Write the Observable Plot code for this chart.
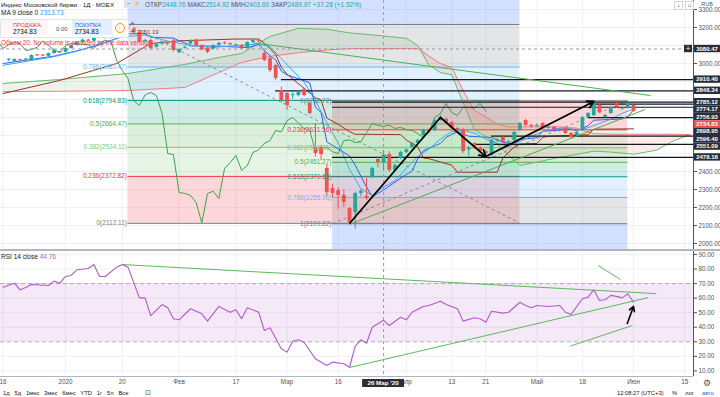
<!DOCTYPE html>
<html><head><meta charset="utf-8">
<script src="https://cdn.jsdelivr.net/npm/d3@7"></script>
<script src="https://cdn.jsdelivr.net/npm/@observablehq/plot@0.6"></script>
<style>
body{margin:0;background:#fff;font-family:"Liberation Sans",Arial,sans-serif;}
#wrap{position:relative;width:720px;height:397px;overflow:hidden;background:#fff}
#price{position:absolute;left:0;top:0}
#rsi{position:absolute;left:0;top:251px}
.t{position:absolute;white-space:nowrap;font-size:7px;line-height:8px;color:#131722}
#sep{position:absolute;left:0;top:249px;width:720px;height:2px;background:#b2b5be}
#order{position:absolute;left:0;top:19px;width:127px;height:17px;background:#fff;border:1px solid #e0e3eb;border-radius:2px}
</style></head><body><div id="wrap">
<div id="price"></div><div id="sep"></div><div id="rsi"></div>
</div>
<script>
// ---------- DATA ----------
const tickIdx = [-1,10,20,30,40,49,58,70,78,84,93,101,110,119];
const tickLabels = ["16","2020","20","Фев","17","Мар","16","Апр","13","21","Май","18","Июн","15"];
const crossIdx = 66, crossLabel = "26 Мар '20", crossPrice = 3080.47;
const priceTicks = [2000,2100,2200,2300,2400,3000,3200,3300];
const rsiTicks = [10,20,30,40,50,60,70,80,90];

const open = [3020,3011,3020,3022,3022,3047,3046,3040,3055,3064,
3062,3083,3100,3117,3130,3125,3145,3150,3140,3155,
3175,3195,3190,3170,3122,3128,3090,3108,3112,3125,
3060,3085,3108,3130,3100,3085,3080,3100,3114,3108,
3098,3100,3089,3117,3124,3056,3028,2989,2850,2833,
2822,2822,2856,2778,2533,2533,2417,2306,2294,2267,
2194,2172,2278,2262,2367,2467,2448.76,2494,2406,2472,
2506,2533,2556,2600,2630,2628,2683,2690,2672,2639,
2630,2520,2555,2530,2510,2490,2570,2589,2561,2572,
2628,2683,2656,2652,2667,2640,2645,2630,2639,2611,
2600,2628,2700,2711,2767,2700,2722,2778,2748,2750,
2767];
const high = [3028,3026,3024,3028,3048,3050,3050,3058,3076,3068,
3088,3104,3122,3136,3134,3150,3156,3152,3160,3180,
3205,3217,3196,3176,3134,3134,3108,3122,3118,3140,
3082,3096,3132,3135,3104,3090,3104,3118,3120,3114,
3108,3104,3120,3134,3130,3070,3034,2996,2870,2850,
2838,2846,2862,2790,2667,2545,2440,2330,2310,2300,
2200,2285,2300,2361,2425,2480,2514.92,2510,2440,2512,
2528,2562,2580,2634,2636,2690,2712,2698,2678,2645,
2640,2540,2560,2540,2518,2578,2585,2594,2570,2622,
2672,2690,2664,2664,2672,2650,2650,2636,2644,2616,
2622,2705,2728,2790,2775,2718,2760,2784,2758,2784,
2772];
const low = [3010,3006,3010,3016,3018,3040,3038,3036,3052,3056,
3058,3080,3096,3112,3120,3120,3140,3134,3136,3150,
3170,3180,3164,3114,3115,3075,3085,3100,3104,3065,
3055,3080,3100,3096,3070,3055,3076,3096,3104,3100,
3094,3078,3084,3112,3116,3010,2950,2905,2780,2740,
2800,2815,2815,2715,2480,2460,2260,2255,2190,2200,
2109.82,2080,2260,2240,2360,2420,2403.60,2395,2400,2466,
2500,2528,2550,2594,2612,2620,2680,2665,2632,2620,
2500,2480,2525,2500,2483,2485,2560,2555,2555,2566,
2622,2650,2640,2645,2632,2635,2625,2620,2605,2580,
2594,2622,2695,2705,2722,2695,2718,2750,2740,2745,
2730];
const close = [3022,3022,3016,3023,3044,3043,3042,3055,3072,3060,
3083,3100,3117,3130,3125,3145,3150,3140,3155,3175,
3195,3190,3170,3120,3128,3083,3105,3117,3110,3072,
3078,3090,3126,3100,3075,3062,3100,3112,3110,3106,
3103,3083,3117,3128,3122,3017,2961,2917,2794,2767,
2825,2839,2822,2722,2500,2494,2283,2278,2267,2228,
2115,2278,2290,2250,2417,2450,2489.97,2406,2433,2506,
2520,2556,2572,2628,2620,2683,2700,2670,2639,2630,
2510,2530,2533,2510,2500,2572,2575,2561,2565,2617,
2667,2656,2650,2658,2639,2645,2633,2628,2611,2589,
2617,2700,2722,2778,2728,2711,2756,2756,2752,2778,
2734.83];

// indicator lines (bar index, value)
const ma9Idx = [-1,8,12,16,20,24,28,32,36,40,44,46,48,50,52,54,56,58,60,62,64,66,68,70,72,74,76,78,80,82,84,86,88,90,92,94,96,98,100,102,104,106,108,110];
const ma9Val = [2990,3038,3068,3109,3148,3158,3124,3101,3090,3099,3109,3094,3027,2961,2896,2794,2672,2559,2412,2304,2267,2313.73,2348,2418,2483,2526,2580,2621,2628,2613,2580,2555,2540,2567,2596,2621,2637,2643,2630,2643,2667,2690,2724,2746];
const tenkanIdx = [-1,8,12,16,20,21,24,25,29,30,31,32,38,42,44,45,46,47,48,49,53,54,55,56,58,60,61,62,63,64,66,70,71,72,73,75,76,77,78,79,81,85,87,89,90,93,94,99,100,102,103,108,109,110];
const tenkanVal = [3000,3041,3070,3104,3150,3165,3166,3146,3141,3126,3116,3098,3095,3088,3105,3072,3042,3020,2957,2937,2893,2757,2728,2565,2526,2486,2435,2374,2313,2260,2297,2384,2401,2470,2515,2543,2556,2589,2606,2620,2596,2589,2563,2551,2578,2588,2623,2635,2626,2654,2685,2692,2706,2742];
const kijunIdx = [-1,9,19,25,30,40,44,45,46,47,48,49,54,55,56,58,60,61,69,70,71,72,73,74,78,79,86,87,89,90,93,94,95,102,103,110];
const kijunVal = [2833,2906,3000,3111,3126,3136,3136,3113,3083,3050,2978,2940,2810,2797,2697,2662,2622,2607,2605,2575,2557,2538,2475,2471,2435,2396,2396,2476,2536,2553,2556,2589,2596,2604,2635,2637];
const cloudIdx = [-1,9,21,31,37,41,46,51,56,60,65,70,72,74,76,78,80,82,84,86,88,90,93,97,100,103,106,110,114,117,120];
const spanA = [2889,2911,2944,2995,3033,3056,3150,3195,3190,3170,3156,3140,3100,2990,2950,2937,2783,2631,2594,2554,2490,2433,2452,2479,2495,2513,2508,2496,2518,2570,2606];
const spanB = [2844,2846,2850,2867,2950,3006,3040,3060,3075,3083,3083,3083,3083,3040,3000,2978,2849,2739,2703,2663,2648,2648,2648,2648,2640,2610,2607,2607,2607,2607,2605];

// Fibonacci retracements
const fibLevels = [0,0.236,0.382,0.5,0.618,0.786,1,1.618];
const fibColors = ["#787b86","#f23645","#81c784","#4caf50","#089981","#64b5f6","#787b86","#2962ff"];
const fib1Prices = [2112.11,2372.82,2534.11,2664.47,2794.83,2980.47,3216.80,3899.50];
const fib1Span = [21,90];
const fib2Prices = [2792.72,2631.56,2531.85,2451.27,2370.68,2255.96,2109.82,1687.80];
const fib2Span = [57,109];

// horizontal levels
const hLevels = [2910.40,2848.34,2785.12,2774.17,2756.93,2698.95,2596.40,2551.09,2478.18];
const hStart  = [48,47,57,102,57,102,85,82,57];
const lastPrice = 2734.83;

// trend lines on price (idx, price)
const zigIdx = [60,76,84,103];
const zigVal = [2111,2700,2483,2789];
const greenPx = [{i1:60,v1:2106,i2:112,v2:2744},{i1:43,v1:3115,i2:113,v2:2822}];

// RSI
const rsiIdx = [-1,1,2,3,4,7,8,9,10,11,12,14,15,16,17,19,20,21,23,24,25,27,28,29,30,32,34,35,37,39,40,41,42,44,45,46,48,49,50,51,52,54,56,57,59,60,61,62,63,64,66,67,69,70,71,73,74,76,77,79,80,82,83,84,85,87,88,90,91,92,93,95,97,98,99,101,102,103,104,105,106,107,108,109,110];
const rsiVal = [67.5,70.3,65.7,67.3,69.4,68.7,71.7,70.3,74.9,75.6,79.5,80.4,83.1,74.9,74.9,81.3,83.1,81.3,60.2,60.2,48,55.6,53.4,45.8,45.1,52.7,49.2,44.2,54.3,50.3,52,45.8,53.4,50.3,37.8,39.6,25.2,22.9,30.4,31.4,29.7,18.3,13.7,16,14.9,12.5,27,31.4,29,40,44.76,41.2,46.9,45.1,50.3,54.3,55,57.9,55.6,52.7,44.2,46.5,45.8,43.5,51,49.7,50.3,57.2,55,53.4,55,54.3,55,50.3,48.8,59.6,60.7,65.7,58.4,58.9,61.9,61.2,60.2,63,57.2];
const rsiLines = [{i1:20,v1:83.1,i2:114,v2:63.1},{i1:60,v1:12.3,i2:112.6,v2:60.4},{i1:103.8,v1:82.4,i2:107.7,v2:72.8},{i1:98.9,v1:27.1,i2:109.8,v2:41.2}];
const rsiArrow = {i1:108.9,v1:42.6,i2:110,v2:54.3};

// ---------- BUILD ----------
const UP="#26a69a", DN="#ef5350", GRID="#eef0f4", FONT="Liberation Sans, Arial, sans-serif";
const xDomain=[-1.444,120.56], yDomain=[1966.67,3350];
const clampY = v => Math.max(yDomain[0], Math.min(yDomain[1], v));
const candles = open.map((o,k)=>({i:k,o,h:high[k],l:low[k],c:close[k]}));
const bodyLo = d => Math.min(d.o,d.c) - Math.max(0,(5.6-Math.abs(d.o-d.c))/2);
const bodyHi = d => Math.max(d.o,d.c) + Math.max(0,(5.6-Math.abs(d.o-d.c))/2);
const col = d => d.c>=d.o?UP:DN;
const zip = (a,b)=>a.map((i,k)=>({i,v:b[k]}));
const cloud = cloudIdx.map((i,k)=>({i,a:spanA[k],b:spanB[k]}));
const chikou = close.map((c,k)=>({i:k-26,v:c})).filter(d=>d.i>=-2);
function fibZones(prices,span){
  const z=[];for(let k=0;k<prices.length-1;k++)z.push({x1:span[0],x2:span[1],y1:clampY(prices[k]),y2:clampY(prices[k+1]),fill:fibColors[k+1]});return z;}
function fibLines(prices,span){return prices.map((p,k)=>({x1:span[0],x2:span[1],y:p,stroke:fibColors[k],label:`${fibLevels[k]}(${p.toFixed(2)})`}));}
const z1=fibZones(fib1Prices,fib1Span), z2=fibZones(fib2Prices,fib2Span);
const l1=fibLines(fib1Prices,fib1Span).filter(d=>d.y<yDomain[1]), l2=fibLines(fib2Prices,fib2Span).filter(d=>d.y>yDomain[0]);
const hl = hLevels.map((v,k)=>({v,x1:hStart[k]}));
const zig = zigIdx.slice(1).map((i,k)=>({i1:zigIdx[k],v1:zigVal[k],i2:i,v2:zigVal[k+1]}));

const priceChart = Plot.plot({
  width:720,height:249,marginTop:0,marginBottom:0,marginLeft:0,marginRight:27,
  x:{domain:xDomain,axis:null},y:{domain:yDomain,axis:null},
  style:{fontFamily:FONT,fontSize:"6.5px",background:"transparent",overflow:"visible"},
  marks:[
    Plot.ruleY(d3.range(2000,3301,100),{stroke:GRID}),
    Plot.ruleX(tickIdx,{stroke:GRID}),
    Plot.rect(z1,{x1:"x1",x2:"x2",y1:"y1",y2:"y2",fill:"fill",fillOpacity:0.2}),
    Plot.rect(z2,{x1:"x1",x2:"x2",y1:"y1",y2:"y2",fill:"fill",fillOpacity:0.2}),
    Plot.ruleY(l1,{x1:"x1",x2:"x2",y:"y",stroke:"stroke",strokeWidth:1}),
    Plot.ruleY(l2,{x1:"x1",x2:"x2",y:"y",stroke:"stroke",strokeWidth:1}),
    Plot.areaY(cloud,{x:"i",y1:"b",y2:d=>Math.max(d.a,d.b),fill:"#43a047",fillOpacity:0.1}),
    Plot.areaY(cloud,{x:"i",y1:"a",y2:d=>Math.max(d.a,d.b),fill:"#f44336",fillOpacity:0.1}),
    Plot.link([{}],{x1:fib1Span[0],y1:fib1Prices[6],x2:fib1Span[1],y2:fib1Prices[0],stroke:"#787b86",strokeDasharray:"3,3",strokeOpacity:0.8}),
    Plot.link([{}],{x1:fib2Span[0],y1:fib2Prices[6],x2:fib2Span[1],y2:fib2Prices[0],stroke:"#787b86",strokeDasharray:"3,3",strokeOpacity:0.8}),
    Plot.line(cloud,{x:"i",y:"a",stroke:"#66bb6a",strokeWidth:1}),
    Plot.line(cloud,{x:"i",y:"b",stroke:"#ef7b7b",strokeWidth:1}),
    Plot.line(zip(kijunIdx,kijunVal),{x:"i",y:"v",stroke:"#a3302a",strokeWidth:1}),
    Plot.line(chikou,{x:"i",y:"v",stroke:"#43a047",strokeWidth:1}),
    Plot.line(zip(tenkanIdx,tenkanVal),{x:"i",y:"v",stroke:"#2962ff",strokeWidth:1}),
    Plot.line(zip(ma9Idx,ma9Val),{x:"i",y:"v",stroke:"#42a5f5",strokeWidth:1}),
    Plot.ruleY(hl,{x1:"x1",x2:xDomain[1],y:"v",stroke:"#131722",strokeWidth:1.2}),
    Plot.link(greenPx,{x1:"i1",y1:"v1",x2:"i2",y2:"v2",stroke:"#4caf50",strokeWidth:1}),
    Plot.ruleY([crossPrice],{stroke:"#9598a1",strokeDasharray:"3,3"}),
    Plot.ruleX([crossIdx],{stroke:"#9598a1",strokeDasharray:"3,3"}),
    Plot.ruleX(candles,{x:"i",y1:"l",y2:"h",stroke:col,strokeWidth:1}),
    Plot.ruleX(candles,{x:"i",y1:bodyLo,y2:bodyHi,stroke:col,strokeWidth:3.8}),
    Plot.link(zig.slice(0,1),{x1:"i1",y1:"v1",x2:"i2",y2:"v2",stroke:"#000",strokeWidth:1.8}),
    Plot.arrow(zig.slice(1),{x1:"i1",y1:"v1",x2:"i2",y2:"v2",stroke:"#000",strokeWidth:1.8,headLength:6}),
    Plot.text(l1.filter(d=>d.y<3200),{x:"x1",y:"y",text:"label",fill:"stroke",textAnchor:"end",dx:-1}),
    Plot.text(l2,{x:"x1",y:"y",text:"label",fill:"stroke",textAnchor:"end",dx:-1}),
    Plot.ruleX([xDomain[1]],{stroke:"#50535e"}),
    Plot.axisY({anchor:"right",ticks:priceTicks,tickFormat:d=>d.toFixed(2),tickSize:3,tickPadding:2,fontSize:6.3,color:"#50535e"})
  ]
});
document.getElementById("price").appendChild(priceChart);
{
  const svg=d3.select(priceChart), ys=priceChart.scale("y");
  const labs=[...hLevels,lastPrice].map(v=>({v,y:ys.apply(v)})).sort((a,b)=>a.y-b.y);
  for(let k=1;k<labs.length;k++) if(labs[k].y<labs[k-1].y+7.4) labs[k].y=labs[k-1].y+7.4;
  const g=svg.append("g").attr("font-family",FONT);
  const box=(y,txt,fill)=>{g.append("rect").attr("x",694).attr("y",y-3.7).attr("width",26).attr("height",7.4).attr("fill",fill);
    g.append("text").attr("x",707).attr("y",y).attr("dy","0.35em").attr("text-anchor","middle").attr("fill","#fff").attr("font-size",6).attr("font-weight","bold").text(txt);};
  labs.forEach(l=>box(l.y,l.v.toFixed(2),l.v===lastPrice?"#ef5350":"#2a2e39"));
  const cy=ys.apply(crossPrice); box(cy,crossPrice.toFixed(2),"#2a2e39");
  g.append("rect").attr("x",684).attr("y",cy-3.7).attr("width",8).attr("height",7.4).attr("fill","#2a2e39");
  g.append("text").attr("x",688).attr("y",cy).attr("dy","0.35em").attr("text-anchor","middle").attr("fill","#fff").attr("font-size",7).text("+");
  g.append("text").attr("x",707).attr("y",4).attr("dy","0.35em").attr("text-anchor","middle").attr("fill","#50535e").attr("font-size",5.5).text("RUB");
}

const rsiChart = Plot.plot({
  width:720,height:146,marginTop:0,marginBottom:21,marginLeft:0,marginRight:27,
  x:{domain:xDomain,axis:null},y:{domain:[6.15,92.06],axis:null},
  style:{fontFamily:FONT,fontSize:"6.5px",background:"transparent",overflow:"visible"},
  marks:[
    Plot.ruleY(rsiTicks,{stroke:GRID}),
    Plot.ruleX(tickIdx,{stroke:GRID}),
    Plot.rectY([{}],{x1:xDomain[0],x2:xDomain[1],y1:30,y2:70,fill:"#9c27b0",fillOpacity:0.1}),
    Plot.ruleY([30,70],{stroke:"#9598a1",strokeDasharray:"4,3",strokeOpacity:0.7}),
    Plot.ruleX([crossIdx],{stroke:"#9598a1",strokeDasharray:"3,3"}),
    Plot.link(rsiLines,{x1:"i1",y1:"v1",x2:"i2",y2:"v2",stroke:"#5cb85c",strokeWidth:1}),
    Plot.line(zip(rsiIdx,rsiVal),{x:"i",y:"v",stroke:"#b15cc9",strokeWidth:1.1}),
    Plot.arrow([rsiArrow],{x1:"i1",y1:"v1",x2:"i2",y2:"v2",stroke:"#000",strokeWidth:1.6,headLength:5}),
    Plot.ruleX([xDomain[1]],{stroke:"#50535e"}),
    Plot.ruleY([6.15],{stroke:"#b2b5be"}),
    Plot.axisY({anchor:"right",ticks:rsiTicks,tickFormat:d=>d.toFixed(2),tickSize:3,tickPadding:2,fontSize:6.3,color:"#50535e"}),
    Plot.axisX({anchor:"bottom",ticks:tickIdx,tickFormat:d=>tickLabels[tickIdx.indexOf(d)],tickSize:0,tickPadding:3,fontSize:6.3,color:"#50535e"})
  ]
});
document.getElementById("rsi").appendChild(rsiChart);
{
  const svg=d3.select(rsiChart), xs=rsiChart.scale("x");
  const cx=xs.apply(crossIdx);
  svg.append("rect").attr("x",cx-21).attr("y",128).attr("width",42).attr("height",8).attr("fill","#2a2e39");
  svg.append("text").attr("x",cx).attr("y",132).attr("dy","0.35em").attr("text-anchor","middle").attr("fill","#fff").attr("font-size",6.2).attr("font-weight","bold").attr("font-family",FONT).text(crossLabel);
  svg.append("text").attr("x",707).attr("y",132).attr("dy","0.35em").attr("text-anchor","middle").attr("fill","#50535e").attr("font-size",9).text("⚙");
}

// ---------- HTML overlays ----------
const wrap=document.getElementById("wrap");
function t(x,y,html,style=""){const d=document.createElement("div");d.className="t";d.style.left=x+"px";d.style.top=y+"px";d.style.cssText+=style;d.innerHTML=html;wrap.appendChild(d);return d;}
t(1,1,"Индекс Московской биржи · 1Д · MOEX","font-size:6.2px");
t(124,0,"<span style='display:inline-block;width:9px;height:8px;background:#e0e3eb;text-align:center;color:#787b86'>−</span> <span style='color:#ff9800'>≡</span>");
const L="color:#50535e",V="color:#26a69a";
t(145,1,`<span style='${L}'>ОТКР</span><span style='${V}'>2448.76</span> <span style='${L}'>МАКС</span><span style='${V}'>2514.92</span> <span style='${L}'>МИН</span><span style='${V}'>2403.60</span> <span style='${L}'>ЗАКР</span><span style='${V}'>2489.97</span> <span style='${V}'>+37.28 (+1.52%)</span>`,"font-size:6.5px");
t(1,9,"MA 9 close 0 <span style='color:#2196f3'>2313.73</span>","font-size:6.5px");
t(137,28,"3051.19","font-size:6px;color:#a3302a");
const od=document.createElement("div");od.id="order";wrap.appendChild(od);
t(1,20,"<div style='width:46px;height:15px;background:#fff5f5'></div>");
t(13,21,"<span style='color:#f23645;font-size:5.5px'>ПРОДАЖА</span>");
t(13,28,"2734.83","font-size:6.5px");
t(56,25,"0.00","font-size:6px;color:#50535e");
t(72,20,"<div style='width:40px;height:15px;background:#e3effd'></div>");
t(75,21,"<span style='color:#2962ff;font-size:5.5px'>ПОКУПКА</span>");
t(75,28,"2734.83","font-size:6.5px");
t(115,23,"<div style='width:8px;height:8px;border:1px solid #ff9800;border-radius:50%;color:#ff9800;font-size:6px;line-height:8px;text-align:center;background:#fff'>i</div>");
t(130,20,"+","font-size:8px;color:#50535e");
t(130,28,"−","font-size:8px;color:#50535e");
t(1,39,"Объем 20: No volume is provided by the data vendor.","font-size:6.3px;color:#f23645");
t(674,1,"<span style='display:inline-block;width:7px;height:7px;border:1px solid #d1d4dc;font-size:6px;line-height:7px;text-align:center'>↓</span> <span style='display:inline-block;width:7px;height:7px;border:1px solid #d1d4dc;font-size:6px;line-height:7px;text-align:center'>⌂</span>");
t(1,253,"RSI 14 close <span style='color:#b15cc9'>44.76</span>","font-size:6.5px");
t(3,389,"1д&nbsp;&nbsp; 5д&nbsp;&nbsp; 1мес&nbsp;&nbsp; 3мес&nbsp;&nbsp; 6мес&nbsp;&nbsp; YTD&nbsp;&nbsp; 1г&nbsp;&nbsp; 5л&nbsp;&nbsp; Все","font-size:5.8px;color:#131722");
t(145,389,"⊡","font-size:7px;color:#50535e");
t(617,389,"12:08:27 (UTC+3)","font-size:5.8px;color:#131722");
t(672,389,"%","font-size:5.8px;color:#131722");
t(685,389,"лог","font-size:5.8px;color:#131722");
t(702,389,"авто","font-size:5.8px;color:#2962ff");
</script></body></html>
